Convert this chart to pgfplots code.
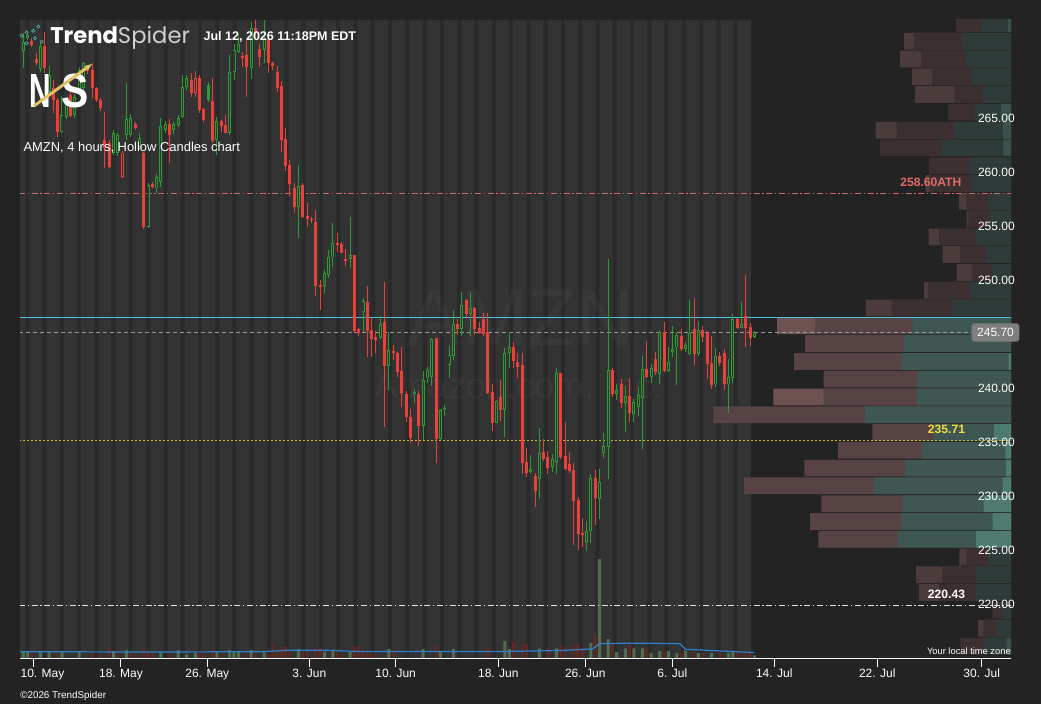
\documentclass[border=0pt]{standalone}
\usepackage{pgfplots}
\pgfplotsset{compat=1.18}
\usepackage{pgfplotstable}
\usetikzlibrary{arrows.meta}
\usepackage{fontspec}
\setmainfont{Liberation Sans}
\newfontfamily\pop{Poppins}
\definecolor{bgc}{HTML}{232323}
\definecolor{gapc}{HTML}{2A2A2A}
\definecolor{bandc}{HTML}{333333}
\definecolor{cgreen}{HTML}{2E9A34}
\definecolor{cred}{HTML}{E8403A}
\definecolor{vgreen}{HTML}{536C4E}
\definecolor{vred}{HTML}{5C2A25}
\definecolor{vblue}{HTML}{2F7FD0}
\definecolor{dlr}{HTML}{4B3B3B}
\definecolor{ddr}{HTML}{3B2F2F}
\definecolor{dtl}{HTML}{2E3B39}
\definecolor{dlt}{HTML}{3A524C}
\definecolor{blr}{HTML}{6E5151}
\definecolor{bdr}{HTML}{574343}
\definecolor{btl}{HTML}{3E5752}
\definecolor{blt}{HTML}{4F7A70}
\definecolor{cyanl}{HTML}{4CC0E6}
\definecolor{athc}{HTML}{C86A6A}
\definecolor{athtxt}{HTML}{E06B6B}
\definecolor{yel}{HTML}{C9B43A}
\definecolor{yeltxt}{HTML}{F2DC3C}
\definecolor{boxg}{HTML}{7E7E7E}
\definecolor{tealc}{HTML}{4AA093}
\definecolor{gold}{HTML}{E6C064}
\definecolor{spg}{HTML}{D0D0D0}

% candles: i = bar index, lo/hi = body bottom/top, L/H = low/high
\pgfplotstableread{
i lo hi L H
0 271.79 272.62 270.15 273.40
1 272.93 273.24 272.78 273.40
4 270.06 272.22 269.85 272.47
6 267.96 269.54 267.68 270.37
9 264.29 265.83 264.14 267.59
10 265.68 267.07 265.50 267.30
12 265.83 267.53 265.60 267.80
13 268.15 270.00 267.90 270.30
14 268.30 270.68 268.15 270.77
21 262.35 264.14 262.10 264.40
22 262.35 263.98 262.00 264.20
24 264.00 265.43 263.52 268.77
25 264.00 265.52 263.80 265.90
27 262.90 263.66 262.60 264.14
29 255.50 259.35 255.34 259.50
31 259.04 260.12 258.58 260.34
32 259.66 264.82 259.20 265.52
33 264.45 264.97 264.20 265.30
35 264.45 264.97 264.10 265.20
36 264.91 265.52 264.70 265.80
37 265.68 268.46 265.52 269.54
38 268.46 269.23 268.15 269.54
45 263.52 265.28 262.13 265.68
48 264.19 269.84 264.00 271.39
49 269.79 271.85 269.07 272.41
50 271.70 272.41 271.54 273.33
53 270.21 273.86 269.14 274.47
56 271.85 272.93 270.62 274.63
64 257.34 259.26 254.41 261.20
70 250.03 251.23 249.32 251.48
71 251.02 252.65 250.71 253.33
72 252.65 253.95 251.79 255.80
76 252.47 252.87 251.64 256.42
79 247.62 248.61 245.77 248.86
83 245.22 246.45 245.10 247.20
85 242.62 244.07 240.37 245.77
91 240.00 240.20 239.14 240.43
93 237.07 241.29 235.74 242.13
94 241.45 242.22 241.04 242.53
95 241.60 245.09 240.74 245.21
97 235.83 238.52 235.74 238.60
98 238.52 238.73 237.99 238.98
99 242.68 243.60 241.45 244.43
100 243.52 246.48 243.15 247.78
102 245.99 248.24 245.40 249.47
104 247.41 247.99 245.40 249.47
110 237.34 239.35 237.28 239.44
112 238.52 243.77 236.04 244.23
113 243.77 244.32 242.38 245.77
118 232.75 233.03 232.59 234.35
120 232.16 234.56 230.30 236.82
123 233.27 233.98 232.80 234.44
124 233.73 241.92 232.59 242.41
131 226.32 227.32 225.49 228.27
132 227.29 232.19 226.18 232.59
134 230.25 231.82 228.40 233.05
135 234.56 235.18 234.04 236.42
136 235.12 242.22 232.13 252.50
138 239.99 240.37 239.44 240.93
140 239.19 239.81 236.51 240.74
142 238.12 239.23 237.43 239.51
143 238.82 239.88 237.96 240.68
144 239.60 242.28 234.91 243.52
146 241.60 242.41 241.04 242.78
148 241.85 245.77 240.93 245.92
150 242.16 242.93 242.07 244.32
151 243.92 244.17 243.45 246.30
152 244.32 245.46 240.83 245.62
154 244.17 244.54 243.92 244.81
155 243.70 245.62 243.60 248.70
157 243.70 245.92 243.52 246.76
161 240.89 243.52 240.68 244.23
164 240.89 241.60 238.21 243.24
165 241.51 246.91 240.99 247.41
167 246.14 246.48 246.10 248.55
170 245.25 245.70 245.15 245.83
}\gh

\pgfplotstableread{
i lo hi L H
2 272.32 272.72 272.16 272.93
3 270.62 270.99 270.46 271.54
5 270.15 272.22 269.69 273.55
7 267.22 268.33 266.02 269.07
8 264.29 267.22 263.83 267.38
11 265.74 267.69 265.68 267.99
15 269.94 270.15 269.60 270.50
16 268.30 270.00 267.38 270.68
17 267.22 268.30 267.07 268.46
18 266.45 267.22 266.20 267.40
19 262.75 263.52 260.90 266.14
20 261.05 263.21 260.90 263.52
26 264.60 264.97 264.40 265.20
28 255.50 262.28 255.28 262.44
30 259.20 259.41 259.04 259.66
34 263.98 264.97 261.36 265.49
39 267.84 269.07 267.53 269.69
41 266.30 269.23 266.00 269.54
42 265.37 266.36 265.20 266.45
44 263.45 267.13 263.24 269.26
46 264.81 265.28 264.29 265.37
47 264.19 264.90 264.13 265.83
51 271.08 271.30 270.30 271.70
52 270.30 271.39 267.47 272.78
54 273.40 273.86 272.93 274.63
55 271.23 271.91 270.30 272.41
57 270.62 272.93 269.69 273.08
58 270.40 270.62 270.00 270.77
59 268.30 269.84 267.99 270.37
60 263.52 268.52 262.38 268.98
61 261.14 263.64 260.68 264.60
62 259.44 261.20 258.36 261.67
63 257.34 259.05 256.73 259.51
65 256.42 259.35 256.27 259.51
66 256.17 256.48 255.43 257.66
67 256.11 256.20 255.80 256.43
68 250.03 255.95 249.07 257.04
69 249.93 250.09 247.78 250.55
73 253.80 254.01 253.18 254.88
74 253.08 253.89 253.03 254.10
75 252.34 252.53 251.88 253.39
77 245.86 252.87 245.62 252.87
78 245.62 245.99 245.37 246.08
80 245.86 248.52 243.40 250.00
81 245.09 245.92 243.40 247.00
82 245.00 245.30 243.80 245.80
84 242.62 246.69 236.97 250.34
86 243.77 244.01 243.15 244.54
87 242.07 243.82 241.60 243.92
88 240.06 242.13 238.82 244.32
89 237.90 239.99 237.43 240.30
90 235.96 237.84 235.49 238.58
92 237.07 239.99 235.22 240.30
96 235.83 245.18 233.64 245.18
101 245.99 246.48 245.46 246.91
103 247.41 248.70 246.91 248.77
105 246.02 247.99 245.46 248.03
106 245.62 246.14 245.55 246.70
107 245.55 246.94 245.40 247.53
108 240.06 245.77 239.99 247.47
109 237.34 240.21 236.57 240.93
111 238.52 239.72 237.53 241.29
114 243.05 244.32 242.38 244.84
115 242.53 242.93 241.45 243.77
116 233.64 242.68 232.56 243.77
117 232.71 233.67 232.29 234.97
119 231.05 232.41 229.56 232.71
121 233.98 234.66 233.82 235.80
122 233.18 234.14 232.59 234.72
125 234.19 241.92 233.95 241.92
126 233.05 234.26 232.96 237.41
127 232.90 233.52 232.71 234.66
128 230.12 232.96 226.02 233.58
129 227.04 230.19 225.55 230.49
130 226.92 227.16 225.86 228.54
133 230.40 232.19 227.87 232.96
137 239.99 242.22 239.70 242.38
139 239.19 240.93 238.67 241.39
141 238.21 239.81 237.43 241.48
145 241.54 242.31 241.45 244.91
147 242.07 243.24 241.76 243.92
149 242.16 245.77 242.07 246.70
153 244.17 245.37 244.01 245.99
156 243.70 246.02 242.68 248.92
158 245.31 245.92 244.78 246.30
159 242.78 245.62 241.39 245.83
160 240.83 242.84 240.43 245.37
162 242.84 243.52 242.59 243.86
163 240.93 243.77 240.37 244.17
166 246.14 246.91 246.04 247.07
168 246.14 247.22 244.38 251.02
169 245.22 246.17 244.47 246.54
}\rf

\pgfplotstableread{
i lo hi L H
23 260.12 262.35 260.00 262.50
40 267.84 269.23 267.50 269.90
}\rh

\pgfplotstableread{
i lo hi L H
43 267.22 268.61 267.00 268.90
}\gf

\pgfplotsset{
  base/.style={at={(15pt,34.5pt)}, anchor=south west, scale only axis,
    width=743.25pt, height=478.5pt},
  wick/.style={draw=none, mark=none, forget plot,
    error bars/.cd, y dir=minus, y explicit, error mark=none,
    error bar style={draw=#1, line width=0.75pt}},
  body/.style={draw=none, mark=none, forget plot,
    error bars/.cd, y dir=minus, y explicit, error mark=none,
    error bar style={draw=#1, line width=2.25pt}},
  hollow/.style={draw=none, mark=none, forget plot,
    error bars/.cd, y dir=minus, y explicit, error mark=none,
    error bar style={draw=bandc, line width=0.85pt, shorten <=0.65pt, shorten >=0.65pt}},
}

\begin{document}
\begin{tikzpicture}
\fill[bgc] (0,0) rectangle (780.75pt,528pt);
\useasboundingbox (0,0) rectangle (780.75pt,528pt);

% background: session stripes
\begin{axis}[base, hide axis, xmin=-0.767, xmax=229.7, ymin=215.56, ymax=274.63]
\addplot[fill=gapc, draw=none] coordinates {(-1,215.56) (-1,274.63) (169.2,274.63) (169.2,215.56)} -- cycle;
\addplot[ybar, bar width=3.02, bar shift=0pt, fill=bandc, draw=none] coordinates {
(-1.11,274.63) (2.91,274.63) (6.93,274.63) (10.95,274.63) (14.97,274.63) (18.99,274.63)
(23.01,274.63) (27.03,274.63) (31.04,274.63) (35.06,274.63) (39.08,274.63) (43.10,274.63)
(47.12,274.63) (51.14,274.63) (55.16,274.63) (59.18,274.63) (63.20,274.63) (67.22,274.63)
(71.23,274.63) (75.25,274.63) (79.27,274.63) (83.29,274.63) (87.31,274.63) (91.33,274.63)
(95.35,274.63) (99.37,274.63) (103.39,274.63) (107.41,274.63) (111.42,274.63) (115.44,274.63)
(119.46,274.63) (123.48,274.63) (127.50,274.63) (131.52,274.63) (135.54,274.63) (139.56,274.63)
(143.58,274.63) (147.60,274.63) (151.61,274.63) (155.63,274.63) (159.65,274.63) (163.67,274.63)
(167.69,274.63)};
\end{axis}

% faint watermark
\begin{scope}[x=0.75pt, y=-0.75pt, shift={(0pt,528pt)}]
\node[text=white, text opacity=0.03, inner sep=0pt, font=\fontsize{60}{60}\selectfont] at (521,318) {AMZN};
\node[text=white, text opacity=0.03, inner sep=0pt, font=\fontsize{27}{27}\selectfont] at (518,388) {Amazon.com, Inc.};
\end{scope}

% volume profile (volume measured leftwards from the right edge)
\begin{axis}[base, hide axis, x dir=reverse, xmin=0, xmax=991, ymin=215.56, ymax=274.63]
\addplot[xbar, bar width=1.55, bar shift=0pt, fill=dlr, draw=none] coordinates {
(107,272.67) (111,271.02) (99,269.37) (96,267.73) (135.3,264.43) (85.3,259.49) (52,257.85)
(44.3,256.20) (82.3,254.55) (68.3,252.91) (54.3,251.26) (87,249.61) (145.3,247.97)
(51.7,224.91) (95,223.26) (92,221.62) (33,218.32)};
\addplot[xbar, bar width=1.55, bar shift=0pt, fill=ddr, draw=none] coordinates {
(55,274.31) (97,272.67) (90,271.02) (78.7,269.37) (56.7,267.73) (63,266.08) (114.3,264.43)
(131,262.79) (82,261.14) (81,259.49) (45,257.85) (42.7,256.20) (72,254.55) (51,252.91)
(39,251.26) (83,249.61) (119.3,247.97) (44.3,224.91) (69,223.26) (72,221.62) (18.7,219.97)
(27.7,218.32) (50.7,216.68)};
\addplot[xbar, bar width=1.55, bar shift=0pt, fill=dtl, draw=none] coordinates {
(29.3,274.31) (48.3,272.67) (45,271.02) (39.3,269.37) (28.3,267.73) (36,266.08) (57,264.43)
(69.3,262.79) (41.7,261.14) (39.3,259.49) (22.3,257.85) (21.7,256.20) (35.7,254.55) (25.3,252.91)
(19.3,251.26) (41.3,249.61) (59,247.97) (22.3,224.91) (35,223.26) (35.7,221.62) (8.7,219.97)
(14.3,218.32) (27.3,216.68)};
\addplot[xbar, bar width=1.55, bar shift=0pt, fill=dlt, draw=none] coordinates {
(3,274.31) (10,266.08) (8,264.43) (7.7,262.79) (4.3,216.68)};
\addplot[xbar, bar width=1.55, bar shift=0pt, fill=blr, draw=none] coordinates {
(234,246.32) (237.7,239.73)};
\addplot[xbar, bar width=1.55, bar shift=0pt, fill=bdr, draw=none] coordinates {
(196,246.32) (206,244.67) (217,243.02) (187.3,241.38) (187.3,239.73) (297.7,238.08)
(138.7,236.44) (173,234.79) (206.7,233.14) (267,231.50) (189.7,229.85) (201,228.20) (192.7,226.56)};
\addplot[xbar, bar width=1.55, bar shift=0pt, fill=btl, draw=none] coordinates {
(98.3,246.32) (107.3,244.67) (109.3,243.02) (93.3,241.38) (94,239.73) (146,238.08)
(77.7,236.44) (89.3,234.79) (105.7,233.14) (137.3,231.50) (108.3,229.85) (109.3,228.20) (113.3,226.56)};
\addplot[xbar, bar width=1.55, bar shift=0pt, fill=blt, draw=none] coordinates {
(2.3,243.02) (17,236.44) (5.7,234.79) (5,233.14) (8.3,231.50) (27.3,229.85) (18.3,228.20) (35,226.56)};
\end{axis}

% volume
\begin{axis}[base, hide axis, xmin=-0.767, xmax=229.7, ymin=0, ymax=638]
\addplot[ybar, bar width=0.72, bar shift=0pt, fill=vgreen, draw=none] coordinates {
(0,7) (1,6) (4,7) (6,7) (9,6) (13,7) (21,7) (24,8) (32,6) (36,8) (38,3.7) (40,5.3) (45,7)
(48,8) (49,7) (50,6) (53,8) (56,6) (64,9) (70,6) (72,8) (76,7) (85,9) (93,9) (97,7) (100,9)
(112,17) (113,9) (120,9.7) (124,9.7) (132,15) (134,99) (136,19) (138,6) (140,9.7) (142,9.7)
(144,9.7) (146,5) (148,7) (150,7) (152,5) (154,7.3) (157,5) (160,5) (164,5) (165,6) (170,2.7)};
\addplot[ybar, bar width=0.72, bar shift=0pt, fill=vred, draw=none] coordinates {
(2,4.7) (8,6) (16,5) (18,3.7) (20,10.7) (22,4.7) (25,4.7) (26,3.7) (28,9) (29,6.3) (30,4.7)
(34,3.7) (41,4.7) (42,3.7) (44,8) (46,4) (52,8) (54,5.3) (57,3.7) (58,14.7) (59,6) (60,11)
(61,12) (62,6) (65,6) (66,6) (68,10) (69,10) (73,6) (74,3.7) (77,12) (78,12) (79,8) (80,6)
(81,4.7) (82,4.7) (86,7) (96,13) (108,10.7) (114,16) (116,14) (117,14) (122,9.7) (125,13)
(126,11) (128,13) (129,14) (130,9.7) (133,23) (137,14) (141,13) (145,11) (149,7) (153,5)
(156,8) (158,5) (162,6) (166,6) (168,5) (169,5)};
\addplot[vblue, line width=0.9pt] coordinates {
(-0.77,6.3) (30,6.0) (55,6.3) (62,7.8) (70,7.8) (78,6.5) (110,6.4) (125,7.5) (131,8.8)
(132.5,9.3) (134,14.3) (140,14.8) (146,14.8) (152.7,14.3) (154,8.7) (160,7.5) (165,6.5) (170,5.5)};
\end{axis}

% main price axis
\begin{axis}[base, xmin=-0.767, xmax=229.7, ymin=215.56, ymax=274.63,
  axis x line*=bottom, axis y line*=right,
  x axis line style={draw=white, line width=0.75pt, -},
  y axis line style={draw=none},
  xtick={2.33,22.72,42.79,66.51,86.60,110.47,130.70,150.93,174.65,198.60,222.88},
  xticklabels={{\hspace*{13.8pt}10. May},18. May,26. May,3. Jun,10. Jun,18. Jun,26. Jun,6. Jul,14. Jul,22. Jul,30. Jul},
  ytick={220,225,230,235,240,245,250,255,260,265},
  yticklabel pos=right,
  tick align=outside, major tick length=6.75pt,
  xtick style={draw=white, line width=0.75pt},
  ytick style={draw=none},
  xticklabel style={font=\fontsize{9}{9}\selectfont, text=white, anchor=base, inner sep=0pt, yshift=-8.05pt},
  yticklabel style={font=\fontsize{9}{9}\selectfont, text=white, anchor=base east, inner sep=0pt, xshift=-3.75pt, yshift=1.5pt,
    /pgf/number format/fixed, /pgf/number format/fixed zerofill, /pgf/number format/precision=2,
    /pgf/number format/1000 sep={}, /pgf/number format/assume math mode=true},
]
\addplot[cyanl, line width=0.75pt] coordinates {(-1,247.1) (230,247.1)};
\addplot[draw=white!60!black, line width=0.75pt, dash pattern=on 3pt off 2.25pt] coordinates {(-1,245.68) (220.6,245.68)};
\addplot[athc, line width=0.75pt, dash pattern=on 4.5pt off 2pt on 1pt off 2pt] coordinates {(-1,258.6) (230,258.6)};
\addplot[yel, line width=0.75pt, dash pattern=on 1.5pt off 1.5pt] coordinates {(-1,235.71) (230,235.71)};
\addplot[white!88!black, line width=0.75pt, dash pattern=on 4.5pt off 2pt on 1pt off 2pt] coordinates {(-1,220.43) (230,220.43)};

% wicks
\addplot[wick=cgreen] table[x=i, y=H, y error minus expr=\thisrow{H}-\thisrow{L}] {\gh};
\addplot[wick=cgreen] table[x=i, y=H, y error minus expr=\thisrow{H}-\thisrow{L}] {\gf};
\addplot[wick=cred] table[x=i, y=H, y error minus expr=\thisrow{H}-\thisrow{L}] {\rf};
\addplot[wick=cred] table[x=i, y=H, y error minus expr=\thisrow{H}-\thisrow{L}] {\rh};
% bodies
\addplot[body=cgreen] table[x=i, y=hi, y error minus expr=\thisrow{hi}-\thisrow{lo}] {\gh};
\addplot[hollow] table[x=i, y=hi, y error minus expr=\thisrow{hi}-\thisrow{lo}] {\gh};
\addplot[body=cred] table[x=i, y=hi, y error minus expr=\thisrow{hi}-\thisrow{lo}] {\rh};
\addplot[hollow] table[x=i, y=hi, y error minus expr=\thisrow{hi}-\thisrow{lo}] {\rh};
\addplot[body=cred] table[x=i, y=hi, y error minus expr=\thisrow{hi}-\thisrow{lo}] {\rf};
\addplot[body=cgreen] table[x=i, y=hi, y error minus expr=\thisrow{hi}-\thisrow{lo}] {\gf};
\end{axis}

% texts and logo, in pixel coordinates from the top left
\begin{scope}[x=0.75pt, y=-0.75pt, shift={(0pt,528pt)}]
\foreach \cx/\cy in {21.7/35.7, 26.7/32.3, 33.3/30.7, 38.3/26.7, 35/38.3, 41.7/41.7, 26.7/43.3}
  \draw[tealc, line width=0.6pt] (\cx,\cy) circle[radius=1.6];
\node[anchor=base west, inner sep=0pt, text=white, font=\pop\fontsize{17}{17}\selectfont] at (50,44) {\bfseries Trend\mdseries\color{spg}Spider};
\node[anchor=base west, inner sep=0pt, text=white, font=\bfseries\fontsize{9.4}{9.4}\selectfont] at (203.3,40.7) {Jul 12, 2026 11:18PM EDT};
\node[anchor=base west, inner sep=0pt, text=white, font=\bfseries\fontsize{36}{36}\selectfont] at (29,108) {\scalebox{0.62}[1]{N}\hspace{8pt}\scalebox{0.85}[1]{S}};
\draw[gold, line width=2.2pt, -{Stealth[length=6pt]}] (34,106) -- (92,64);
\node[anchor=base west, inner sep=0pt, text=white, font=\fontsize{9.7}{9.7}\selectfont] at (23.3,152) {AMZN, 4 hours, Hollow Candles chart};
\node[anchor=base west, inner sep=0pt, text=athtxt, font=\bfseries\fontsize{9.1}{9.1}\selectfont] at (900,186.7) {258.60ATH};
\node[anchor=base west, inner sep=0pt, text=yeltxt, font=\bfseries\fontsize{9.1}{9.1}\selectfont] at (927.7,433.3) {235.71};
\node[anchor=base west, inner sep=0pt, text=white, font=\bfseries\fontsize{9.1}{9.1}\selectfont] at (927.7,598.3) {220.43};
\node[fill=boxg, rounded corners=2.25pt, inner sep=0pt, minimum width=35.7pt, minimum height=13.8pt, text=white, font=\fontsize{9}{9}\selectfont] at (995.5,332.5) {245.70};
\node[anchor=base east, inner sep=0pt, text=white, font=\fontsize{7}{7}\selectfont] at (1011,654) {Your local time zone};
\node[anchor=base west, inner sep=0pt, text=white, font=\fontsize{7.4}{7.4}\selectfont] at (20,698) {©2026 TrendSpider};
\end{scope}
\end{tikzpicture}
\end{document}
